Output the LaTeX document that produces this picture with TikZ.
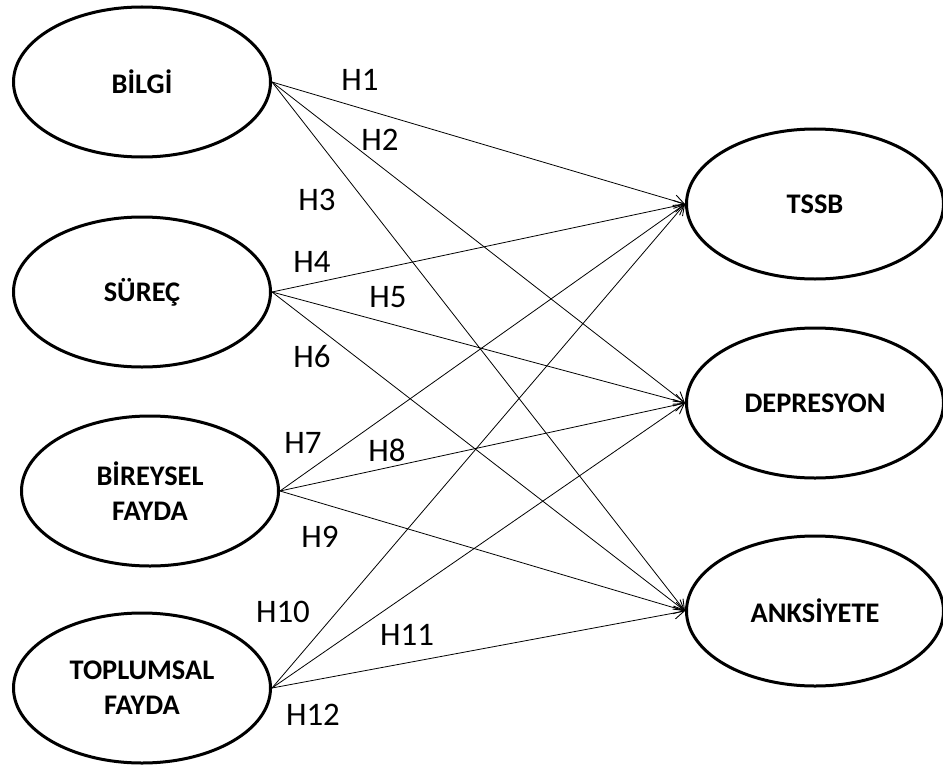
\documentclass[tikz,border=0pt]{standalone}
\usepackage{fontspec}
\setmainfont{Carlito}
\usetikzlibrary{shapes.geometric,arrows.meta}

\tikzset{
  construct/.style={ellipse, draw=black, line width=3bp, fill=white,
    minimum width=257bp, minimum height=150bp, inner sep=0pt,
    align=center, font=\bfseries\fontsize{28.5}{35}\selectfont},
  path/.style={draw=black, line width=0.8bp,
    -{Straight Barb[length=10bp,width=12bp,line width=0.9bp]}},
  hyp/.style={font=\fontsize{33}{33}\selectfont, inner sep=0pt}
}

\begin{document}
\begin{tikzpicture}[x=1bp, y=-1bp]
  \useasboundingbox (0,0) rectangle (943,769);

  % exogenous constructs
  \node[construct] (bilgi)  at (142,82)  {B\.{I}LG\.{I}};
  \node[construct] (surec)  at (142,292) {SÜREÇ};
  \node[construct] (birey)  at (150,491) {B\.{I}REYSEL\\FAYDA};
  \node[construct] (toplum) at (142,688) {TOPLUMSAL\\FAYDA};

  % outcome constructs
  \node[construct] (tssb) at (815,204) {TSSB};
  \node[construct] (dep)  at (815,403) {DEPRESYON};
  \node[construct] (ank)  at (815,611) {ANKS\.{I}YETE};

  % hypothesised paths
  \foreach \s in {bilgi,surec,birey,toplum}
    \foreach \t in {tssb,dep,ank}
      \draw[path] (\s.east) -- (\t.west);

  % hypothesis labels
  \node[hyp] (h1)  at (360,80)  {H1};
  \node[hyp] (h2)  at (380,140) {H2};
  \node[hyp] (h3)  at (317,200) {H3};
  \node[hyp] (h4)  at (312,262) {H4};
  \node[hyp] (h5)  at (388,297) {H5};
  \node[hyp] (h6)  at (312,357) {H6};
  \node[hyp] (h7)  at (303,443) {H7};
  \node[hyp] (h8)  at (387,450) {H8};
  \node[hyp] (h9)  at (320,537) {H9};
  \node[hyp] (h10) at (283,612) {H10};
  \node[hyp] (h11) at (407,635) {H11};
  \node[hyp] (h12) at (313,715) {H12};
\end{tikzpicture}
\end{document}
